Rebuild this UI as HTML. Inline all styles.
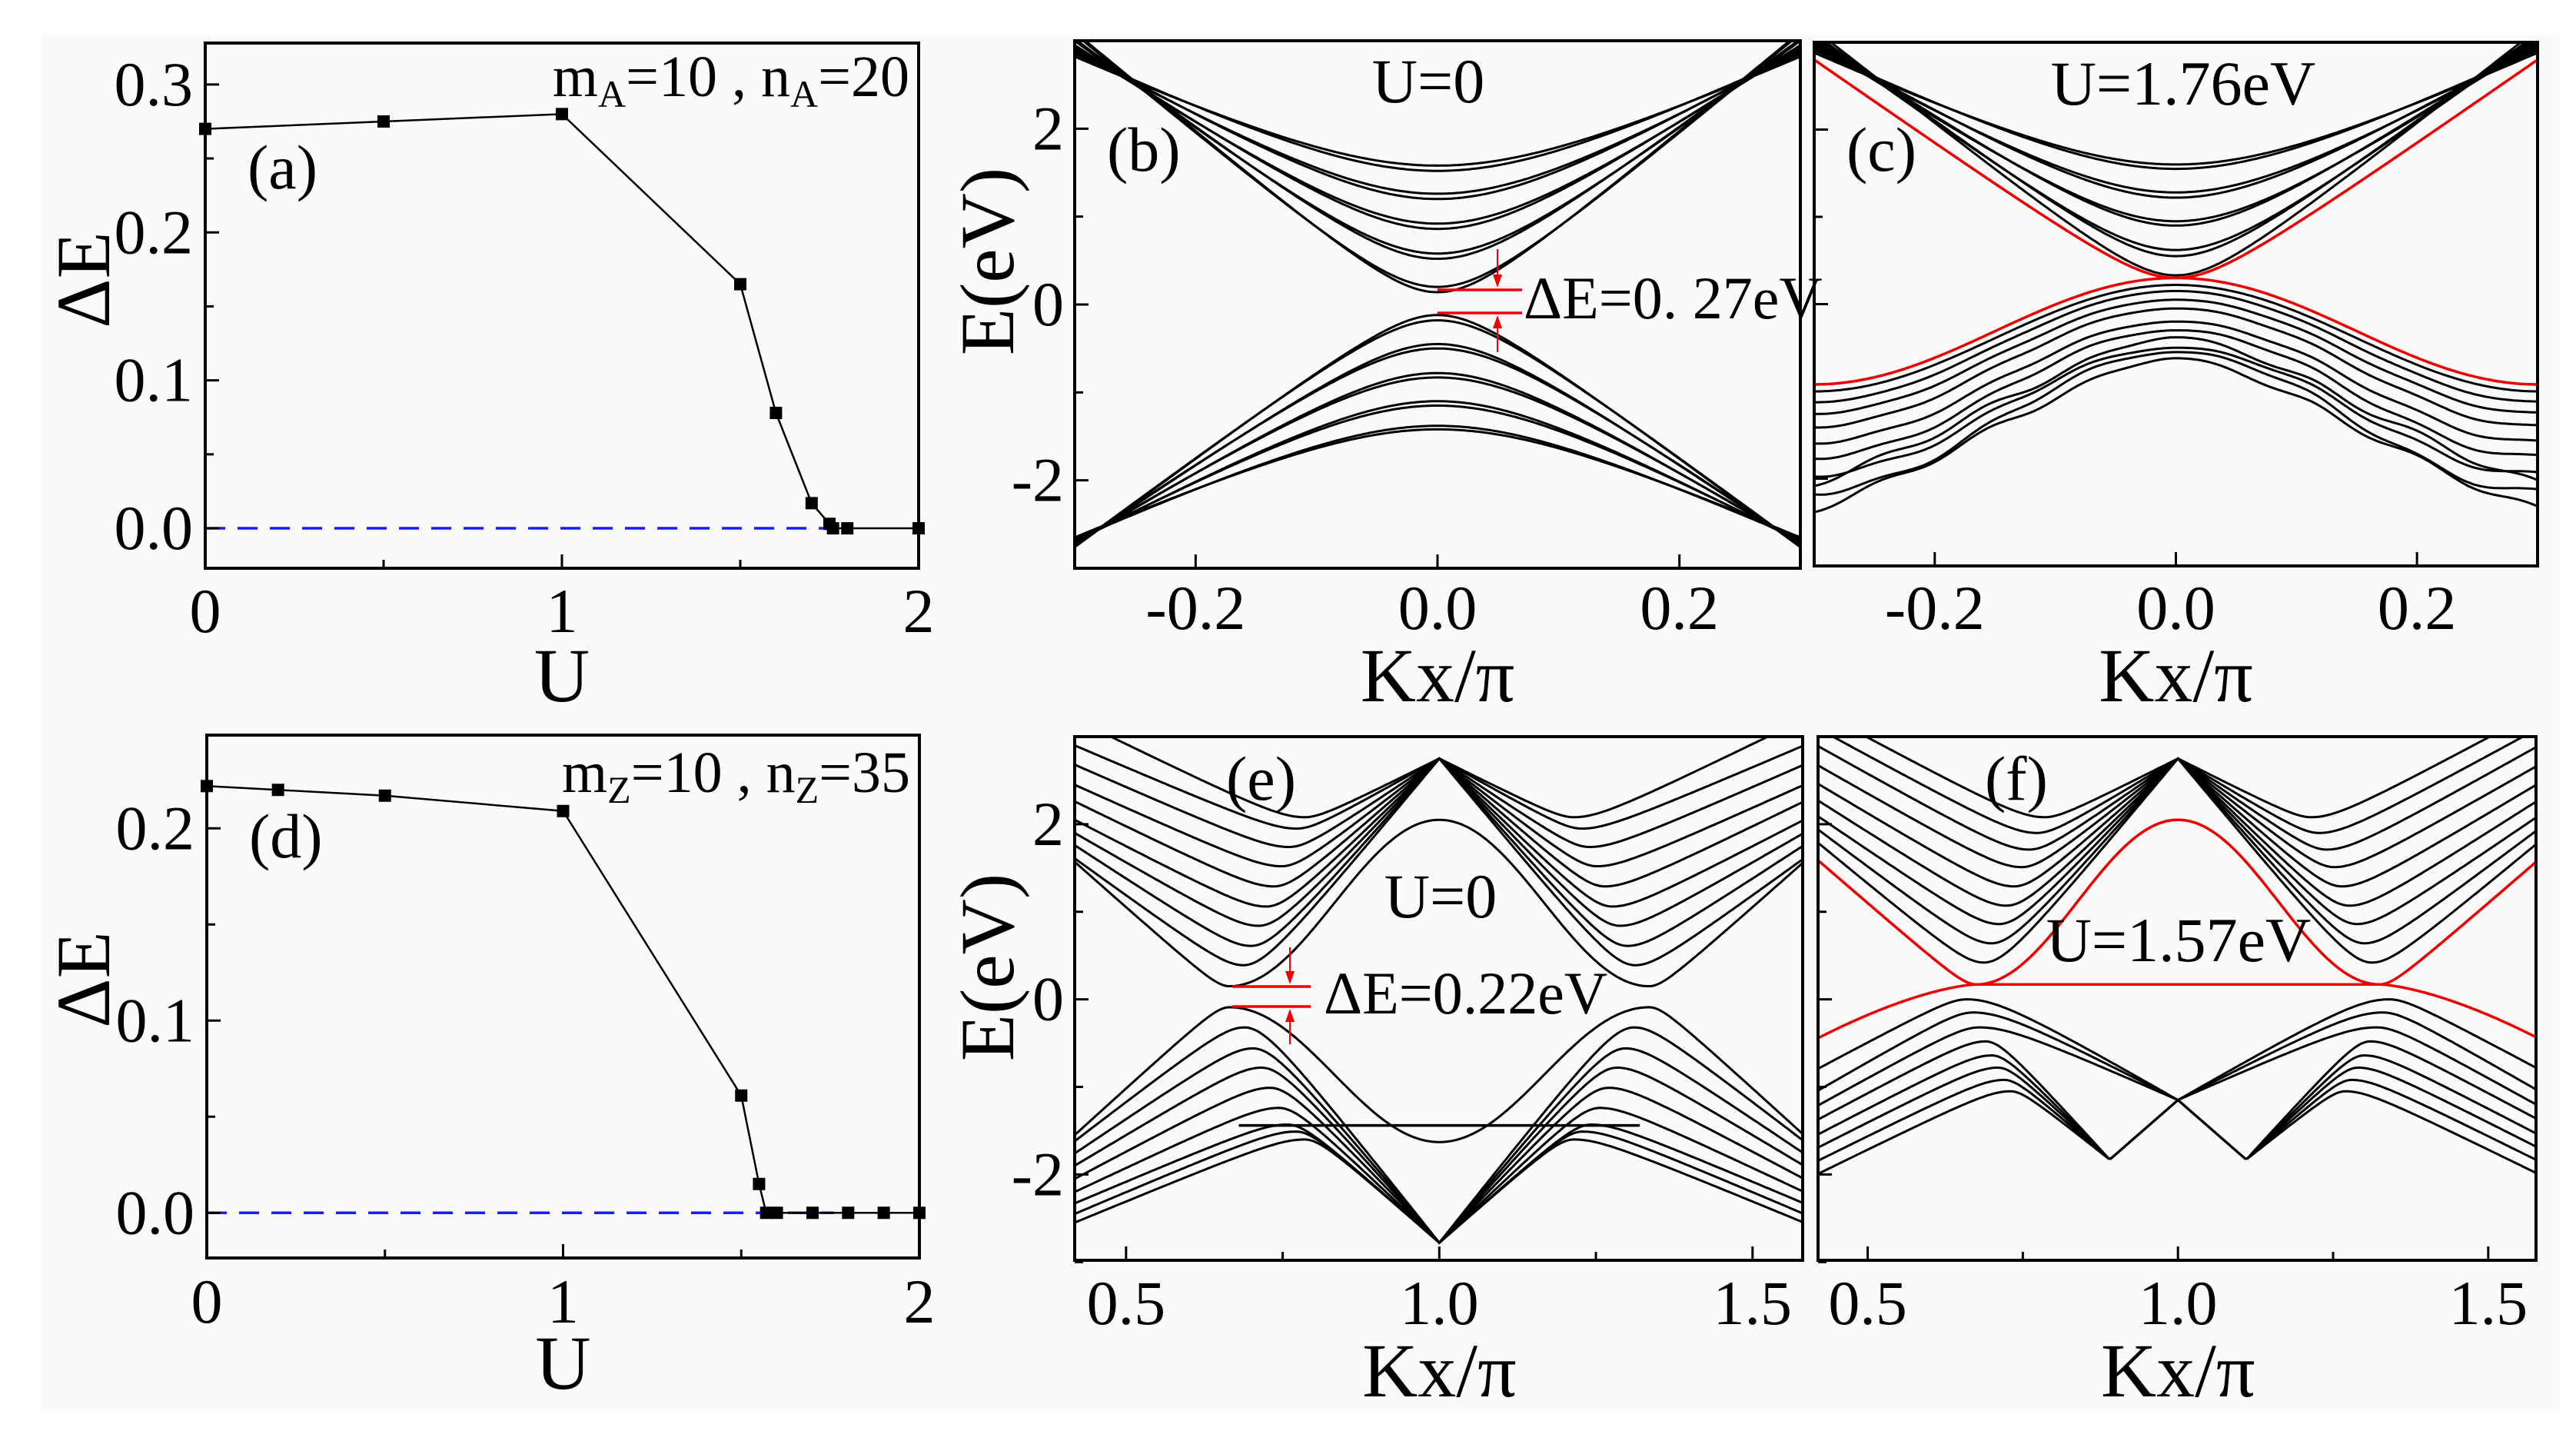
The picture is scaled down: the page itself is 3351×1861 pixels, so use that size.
<!DOCTYPE html>
<html><head><meta charset="utf-8">
<style>
html,body{margin:0;padding:0;background:#fff;}
svg{display:block;}
text{font-family:"Liberation Serif","Times New Roman",Times,"DejaVu Serif",serif;fill:#000;}
</style></head>
<body>
<svg id="fig" width="3351" height="1861" viewBox="0 0 3351 1861" xmlns="http://www.w3.org/2000/svg">
<rect x="0" y="0" width="3351" height="1861" fill="#fff"/>
<rect x="55" y="45" width="3275" height="1790" fill="#fafafa"/>
</svg>
<script>
// ---------- data: panel (a) ----------
const aU = [0, 0.5, 1, 1.5, 1.6, 1.7, 1.75, 1.76, 1.8, 2];
const aGap = [0.27, 0.275, 0.28, 0.165, 0.078, 0.017, 0.003, 0, 0, 0];
// ---------- data: panel (d) ----------
const dU = [0, 0.2, 0.5, 1, 1.5, 1.55, 1.57, 1.6, 1.7, 1.8, 1.9, 2];
const dGap = [0.222, 0.22, 0.217, 0.209, 0.061, 0.015, 0, 0, 0, 0, 0, 0];
// ---------- data: panel (b) ----------
const bCondMin = [0.14, 0.2, 0.52, 0.58, 0.86, 0.92, 1.2, 1.26, 1.52, 1.58];
const bCondEdge = [3.1, 3.08, 3.02, 3.0, 2.95, 2.93, 2.9, 2.88, 2.85, 2.82];
const bValMax = [-0.12, -0.18, -0.45, -0.5, -0.78, -0.83, -1.1, -1.15, -1.38, -1.42];
const bValEdge = [-2.76, -2.75, -2.74, -2.73, -2.72, -2.71, -2.7, -2.69, -2.67, -2.65];
// ---------- data: panel (c) ----------
const cCondMin = [0.33, 0.55, 0.62, 0.9, 0.95, 1.22, 1.28, 1.55, 1.6];
const cCondEdge = [3.15, 3.1, 3.07, 3.03, 3.0, 2.97, 2.94, 2.91, 2.88];
const cRedCond = [0.3, 2.8];
const cValMax = [0.22, 0.15, 0.05, -0.05, -0.2, -0.3, -0.5, -0.55];
const cValEdge = [-1.0, -1.12, -1.25, -1.4, -1.58, -1.75, -1.95, -2.15];
const cSharpMax = [-0.38, -0.62];
const cSharpEdge = [-2.05, -2.35];
const cRedVal = [0.3, -0.92];
// ---------- data: panel (e) ----------
const eCondMin = [0.39, 0.61, 0.84, 1.06, 1.29, 1.52, 1.74, 1.95, 2.08];
const eCondLeft = [1.61, 1.76, 1.9, 2.05, 2.26, 2.45, 2.68, 2.9, 3.2];
const eCondHump = [0.15, 1.57, 2.05];
const eValMax = [-0.32, -0.56, -0.78, -1.01, -1.24, -1.43, -1.51, -1.6];
const eValLeft = [-1.62, -1.76, -1.9, -2.05, -2.2, -2.33, -2.45, -2.55];
const eValHump = [-0.09, -1.55, -1.63];
const eApex = [2.75, -2.78];
const eFlat = [-1.44];
// ---------- data: panel (f) ----------
const fCondMin = [0.42, 0.64, 0.86, 1.07, 1.29, 1.51, 1.71, 1.9, 2.08];
const fCondLeft = [1.8, 1.95, 2.1, 2.28, 2.47, 2.68, 2.9, 3.1, 3.3];
const fRedCond = [0.17, 1.6, 2.05];
const fRedVal = [0.17, -0.45];
const fValMax = [0.0, -0.15, -0.32, -0.48, -0.64, -0.78, -0.92, -1.05];
const fValLeft = [-0.8, -1.05, -1.22, -1.38, -1.55, -1.7, -1.85, -2.0];
const fCross = [-1.15];
const fDip = [-1.83];

const NS = 'http://www.w3.org/2000/svg';
const svg = document.getElementById('fig');
function el(tag, attrs, parent) {
  const e = document.createElementNS(NS, tag);
  for (const k in attrs) e.setAttribute(k, attrs[k]);
  (parent || svg).appendChild(e);
  return e;
}
function txt(x, y, s, size, anchor, parent) {
  const t = el('text', {x: x, y: y, 'font-size': size, 'text-anchor': anchor || 'start'}, parent);
  t.style.fontFamily = '"Liberation Serif", "Times New Roman", Times, "DejaVu Serif", serif';
  t.textContent = s;
  return t;
}
function panel(name, x0, x1, y0, y1, xmin, xmax, ymin, ymax) {
  const g = el('g', {});
  
  
  const p = {g, x0, x1, y0, y1,
    sx: v => x0 + (v - xmin) / (xmax - xmin) * (x1 - x0),
    sy: v => y1 - (v - ymin) / (ymax - ymin) * (y1 - y0)};
  const cid = 'clip-' + name;
  const cp = el('clipPath', {id: cid}, g);
  el('rect', {x: x0, y: y0, width: x1 - x0, height: y1 - y0}, cp);
  p.data = el('g', {'clip-path': 'url(#' + cid + ')'}, g);
  return p;
}
function frame(p) {
  const r = el('rect', {x: p.x0, y: p.y0, width: p.x1 - p.x0, height: p.y1 - p.y0, fill: 'none', stroke: '#000', 'stroke-width': 4}, p.g);
  
  
}
function xticks(p, vals, len) {
  vals.forEach(v => el('line', {x1: p.sx(v), x2: p.sx(v), y1: p.y1, y2: p.y1 - len, stroke: '#000', 'stroke-width': 3}, p.g));
}
function yticks(p, vals, len) {
  vals.forEach(v => el('line', {x1: p.x0, x2: p.x0 + len, y1: p.sy(v), y2: p.sy(v), stroke: '#000', 'stroke-width': 3}, p.g));
}
function curve(p, f, k0, k1, color, w, name) {
  let d = '';
  const N = 300;
  for (let i = 0; i <= N; i++) {
    const k = k0 + (k1 - k0) * i / N;
    d += (i ? 'L' : 'M') + p.sx(k).toFixed(1) + ',' + p.sy(f(k)).toFixed(1);
  }
  const path = el('path', {d: d, fill: 'none', stroke: color, 'stroke-width': w}, p.data);
  
  
}
function hyp(t, a) { return (Math.sqrt(t * t + a * a) - a) / (Math.sqrt(1 + a * a) - a); }
const hc = t => (1 - Math.cos(Math.PI * t)) / 2;
function bandB(m, edge, a) {
  return k => m + (edge - m) * hyp(Math.abs(k) / 0.3, a);
}

// ================= Panel (a) and (d) =================
function gapPanel(name, box, ymin, ymax, U, G, majorY, minorY, label, annot, sub, annotY, labY, ttlY, xlabY, uY) {
  const p = panel(name, box[0], box[1], box[2], box[3], 0, 2, ymin, ymax);
  const dash = el('line', {x1: p.x0, x2: p.sx(1.76), y1: p.sy(0), y2: p.sy(0), stroke: '#1a1aff', 'stroke-width': 3.5, 'stroke-dasharray': '26,16'}, p.data);
  
  
  let d = '';
  U.forEach((u, i) => { d += (i ? 'L' : 'M') + p.sx(u) + ',' + p.sy(G[i]); });
  const line = el('path', {d: d, fill: 'none', stroke: '#000', 'stroke-width': 2.5}, p.data);
  
  
  U.forEach((u, i) => {
    const m = el('rect', {x: p.sx(u) - 8, y: p.sy(G[i]) - 8, width: 16, height: 16, fill: '#000'}, p.g);
    
    
  });
  frame(p);
  xticks(p, [0, 1, 2], 18); xticks(p, [0.5, 1.5], 11);
  yticks(p, majorY, 18); yticks(p, minorY, 11);
  majorY.forEach(v => txt(p.x0 - 16, p.sy(v) + 27, v.toFixed(1), 82, 'end', p.g));
  [0, 1, 2].forEach(v => txt(p.sx(v), xlabY, String(v), 82, 'middle', p.g));
  const ut = txt(p.sx(1), uY, 'U', 100, 'middle', p.g);
   
  const yt = txt(0, 0, 'ΔE', 100, 'middle', p.g);
  yt.setAttribute('transform', 'translate(142,' + ttlY + ') rotate(-90)');
   
  const lb = txt(p.x0 + 55, labY, label, 82, 'start', p.g);
   
  const an = el('text', {x: p.x1 - 12, y: annotY, 'font-size': 76, 'text-anchor': 'end'}, p.g);
  an.style.fontFamily = '"Liberation Serif", "Times New Roman", Times, "DejaVu Serif", serif';
   
  an.innerHTML = 'm<tspan font-size="50" dy="14">' + sub + '</tspan><tspan dy="-14">=10 , n</tspan><tspan font-size="50" dy="14">' + sub + '</tspan><tspan dy="-14">=' + annot + '</tspan>';
}
gapPanel('panel-a', [267, 1195, 56, 739], -0.027, 0.328, aU, aGap, [0, 0.1, 0.2, 0.3], [0.05, 0.15, 0.25], '(a)', '20', 'A', 125, 245, 364, 822, 912);
gapPanel('panel-d', [269, 1196, 956, 1636], -0.0235, 0.2485, dU, dGap, [0, 0.1, 0.2], [0.05, 0.15], '(d)', '35', 'Z', 1030, 1115, 1274, 1720, 1806);

// ================= Band panels common =================
function bandAxes(p, xMaj, xMin, xlabY, ttlY) {
  frame(p);
  xticks(p, xMaj, 18); xticks(p, xMin, 11);
  yticks(p, [-2, 0, 2], 18); yticks(p, [-3, -1, 1, 3], 11);
  xMaj.forEach(v => txt(p.sx(v), xlabY, v.toFixed(1), 82, 'middle', p.g));
  const t = txt(p.sx((xMaj[0] + xMaj[xMaj.length - 1]) / 2), ttlY, 'Kx/π', 100, 'middle', p.g);
   
}
function leftYLabels(p, eTitleY) {
  [[2, '2'], [0, '0'], [-2, '-2']].forEach(a => txt(p.x0 - 14, p.sy(a[0]) + 27, a[1], 82, 'end', p.g));
  const t = txt(0, 0, 'E(eV)', 100, 'middle', p.g);
  t.setAttribute('transform', 'translate(1318,' + eTitleY + ') rotate(-90)');
   
}
function label(p, x, y, s, size, anchor, name) {
  const t = txt(x, y, s, size, anchor || 'start', p.g);
   
}
function gapMarker(p, xa, xb, ya, yb, xarr, top, bot) {
  [ya, yb].forEach(y => el('line', {x1: xa, x2: xb, y1: y, y2: y, stroke: '#e00', 'stroke-width': 3.5}, p.g));
  el('line', {x1: xarr, x2: xarr, y1: top, y2: ya - 6, stroke: '#e00', 'stroke-width': 2}, p.g);
  el('path', {d: `M${xarr - 6},${ya - 20}L${xarr + 6},${ya - 20}L${xarr},${ya - 3}Z`, fill: '#e00'}, p.g);
  el('line', {x1: xarr, x2: xarr, y1: yb + 6, y2: bot, stroke: '#e00', 'stroke-width': 2}, p.g);
  el('path', {d: `M${xarr - 6},${yb + 20}L${xarr + 6},${yb + 20}L${xarr},${yb + 3}Z`, fill: '#e00'}, p.g);
}

// ================= Panel (b) =================
const pb = panel('panel-b', 1398, 2342, 53, 739, -0.3, 0.3, -3, 3);
bCondMin.forEach((m, i) => curve(pb, bandB(m, bCondEdge[i], 0.15 + 0.033 * i), -0.3, 0.3, '#000', 3, 'conduction-band'));
bValMax.forEach((m, i) => curve(pb, bandB(m, bValEdge[i], 0.15 + 0.03 * i), -0.3, 0.3, '#000', 3, 'valence-band'));
bandAxes(pb, [-0.2, 0, 0.2], [], 818, 912);
leftYLabels(pb, 340);
gapMarker(pb, pb.sx(0), 1980, 377, 407, 1948, 324, 458);
label(pb, 1858, 133, 'U=0', 82, 'middle', 'condition-label');
label(pb, 1440, 222, '(b)', 82, 'start', 'panel-label');
label(pb, 1982, 414, 'ΔE=0. 27eV', 78, 'start', 'gap-annotation');

// ================= Panel (c) =================
const pc = panel('panel-c', 2360, 3301, 55, 736, -0.3, 0.3, -3, 3);
cCondMin.forEach((m, i) => curve(pc, bandB(m, cCondEdge[i], 0.15 + 0.035 * i), -0.3, 0.3, '#000', 3, 'conduction-band'));
cValMax.forEach((m, i) => curve(pc, k => m + (cValEdge[i] - m) * hc(Math.abs(k) / 0.3) + 0.035 * Math.sin(70 * k) * Math.min(1, Math.abs(k) / 0.12) * (i / 7), -0.3, 0.3, '#000', 3, 'valence-band'));
cSharpMax.forEach((m, i) => curve(pc, k => m + (cSharpEdge[i] - m) * (0.7 * hyp(Math.abs(k) / 0.3, 0.12) + 0.3 * hc(Math.abs(k) / 0.3)) + 0.04 * Math.sin(70 * k) * Math.min(1, Math.abs(k) / 0.12), -0.3, 0.3, '#000', 3, 'valence-band'));
curve(pc, bandB(cRedCond[0], cRedCond[1], 0.15), -0.3, 0.3, '#e00', 3.5, 'edge-state-conduction');
curve(pc, k => cRedVal[0] + (cRedVal[1] - cRedVal[0]) * hc(Math.abs(k) / 0.3), -0.3, 0.3, '#e00', 3.5, 'edge-state-valence');
bandAxes(pc, [-0.2, 0, 0.2], [], 818, 912);
label(pc, 2840, 136, 'U=1.76eV', 82, 'middle', 'condition-label');
label(pc, 2402, 222, '(c)', 82, 'start', 'panel-label');

// ================= Panel (e) / (f) helpers =================
const KL = 0.418;
function sym(f) { return k => f(k <= 1 ? k : 2 - k); }
function condBand(m, L, A, K0) {
  return sym(k => k < K0 ? m + (L - m) * hyp((K0 - k) / (K0 - KL), 0.14) : m + (A - m) * hyp((k - K0) / (1 - K0), 0.14));
}
function humpBand(m, L, H, K0) {
  return sym(k => k < K0 ? m + (L - m) * hyp((K0 - k) / (K0 - KL), 0.1) : m + (H - m) * hc((k - K0) / (1 - K0)));
}
const kPos = (i, n) => 0.675 + 0.11 * (i + 1) / n;

// ================= Panel (e) =================
const pe = panel('panel-e', 1398, 2345, 958, 1639, 0.418, 1.58, -2.98, 3.0);
eCondMin.forEach((m, i) => curve(pe, condBand(m, eCondLeft[i], eApex[0], kPos(i, eCondMin.length)), 0.418, 1.582, '#000', 3, 'conduction-band'));
curve(pe, humpBand(eCondHump[0], eCondHump[1], eCondHump[2], 0.665), 0.418, 1.582, '#000', 3, 'conduction-band');
eValMax.forEach((m, i) => curve(pe, condBand(m, eValLeft[i], eApex[1], kPos(i, eValMax.length)), 0.418, 1.582, '#000', 3, 'valence-band'));
curve(pe, humpBand(eValHump[0], eValHump[1], eValHump[2], 0.665), 0.418, 1.582, '#000', 3, 'valence-band');
curve(pe, k => eFlat[0], 0.68, 1.32, '#000', 3.5, 'flat-band');
bandAxes(pe, [0.5, 1.0, 1.5], [0.75, 1.25], 1722, 1816);
leftYLabels(pe, 1258);
gapMarker(pe, 1603, 1705, 1283, 1309, 1678, 1232, 1358);
label(pe, 1874, 1193, 'U=0', 82, 'middle', 'condition-label');
label(pe, 1595, 1040, '(e)', 82, 'start', 'panel-label');
label(pe, 1722, 1318, 'ΔE=0.22eV', 78, 'start', 'gap-annotation');

// ================= Panel (f) =================
const pf = panel('panel-f', 2365, 3299, 958, 1639, 0.42, 1.577, -2.98, 3.0);
fCondMin.forEach((m, i) => curve(pf, condBand(m, fCondLeft[i], eApex[0], kPos(i, fCondMin.length)), 0.42, 1.58, '#000', 3, 'conduction-band'));
fValMax.forEach((m, i) => {
  const K0 = 0.66 + 0.01 * i;
  const viaDip = i >= 3;
  const f = sym(k => {
    if (k < K0) return m + (fValLeft[i] - m) * hyp((K0 - k) / (K0 - KL), 0.14);
    if (!viaDip) return m + (fCross[0] - m) * hyp((k - K0) / (1 - K0), 0.2);
    if (k < 0.89) return m + (fDip[0] - m) * hyp((k - K0) / (0.89 - K0), 0.15);
    return fDip[0] + (fCross[0] - fDip[0]) * (k - 0.89) / 0.11;
  });
  curve(pf, f, 0.42, 1.58, '#000', 3, 'valence-band');
});
curve(pf, humpBand(fRedCond[0], fRedCond[1], fRedCond[2], 0.675), 0.42, 1.58, '#e00', 3.5, 'edge-state-conduction');
curve(pf, sym(k => k < 0.675 ? fRedVal[0] + (fRedVal[1] - fRedVal[0]) * Math.pow((0.675 - k) / (0.675 - KL), 1.5) : fRedVal[0]), 0.42, 1.58, '#e00', 3.5, 'edge-state-valence');
bandAxes(pf, [0.5, 1.0, 1.5], [0.75, 1.25], 1722, 1816);
label(pf, 2834, 1250, 'U=1.57eV', 82, 'middle', 'condition-label');
label(pf, 2582, 1040, '(f)', 82, 'start', 'panel-label');
</script>
</body></html>
